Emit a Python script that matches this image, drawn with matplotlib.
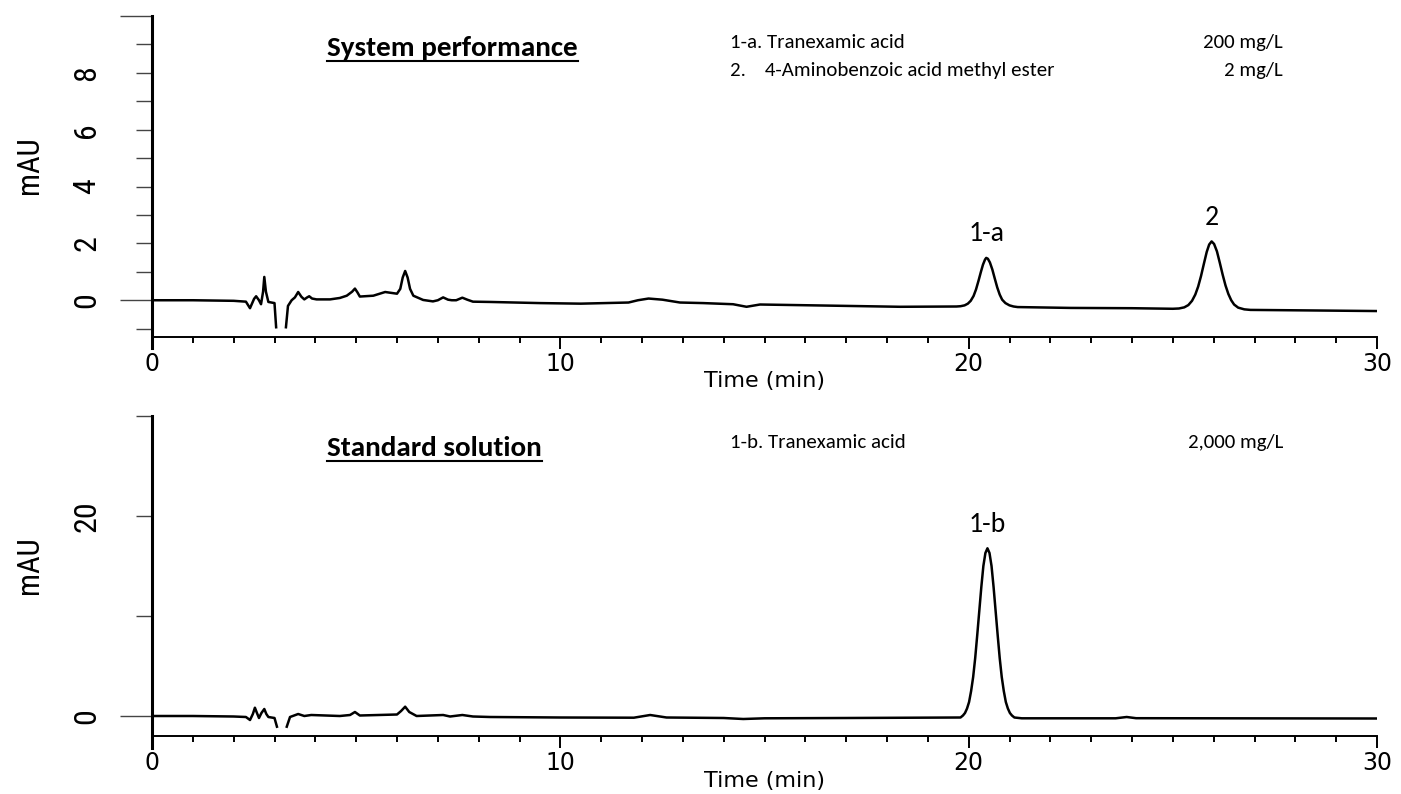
"""HPLC chromatograms: system performance and standard solution."""
import numpy as np
import matplotlib
matplotlib.use("Agg")
import matplotlib.pyplot as plt
from matplotlib import font_manager
from matplotlib.lines import Line2D


def pick_font(names, default="DejaVu Sans"):
    for n in names:
        try:
            font_manager.findfont(n, fallback_to_default=False)
            return n
        except Exception:
            pass
    return default


NARROW = pick_font(["Liberation Sans Narrow", "Roboto Condensed"])
TEXT = pick_font(["Carlito", "Lato", "Open Sans"])
WIDE = "DejaVu Sans"

# ---- data (time in min, signal in mAU) ----
top_time = [0.0, 1.0, 2.0, 2.3, 2.4, 2.5, 2.55, 2.62, 2.67, 2.72, 2.75, 2.79,
            2.85, 3.0, 3.04, np.nan, 3.28, 3.33, 3.42, 3.5, 3.58, 3.66, 3.73,
            3.8, 3.85, 3.92, 4.03, 4.36, 4.6, 4.77, 4.9, 4.97, 5.03, 5.09,
            5.42, 5.71, 6.0, 6.08, 6.14, 6.2, 6.26, 6.32, 6.4, 6.64, 6.88,
            7.0, 7.13, 7.25, 7.34, 7.45, 7.6, 7.72, 7.86, 8.28, 9.5, 10.5,
            11.67, 11.9, 12.16, 12.5, 12.93, 13.5, 14.23, 14.56, 14.89, 16.2,
            18.32, 19.7, 19.8, 19.9, 19.98, 20.05, 20.12, 20.18, 20.24, 20.3,
            20.35, 20.4, 20.43, 20.47, 20.52, 20.58, 20.64, 20.7, 20.76,
            20.82, 20.9, 21.0, 21.1, 21.2, 22.5, 24.0, 25.0, 25.15, 25.28,
            25.38, 25.47, 25.55, 25.62, 25.69, 25.76, 25.83, 25.89, 25.95,
            26.01, 26.08, 26.15, 26.22, 26.29, 26.36, 26.43, 26.5, 26.6,
            26.75, 26.9, 28.5, 30.0]
top_mau = [0.0, 0.0, -0.02, -0.05, -0.28, 0.05, 0.14, 0.0, -0.14, 0.3, 0.82,
           0.3, -0.06, -0.1, -0.95, np.nan, -0.95, -0.2, 0.0, 0.1, 0.29,
           0.12, 0.03, 0.1, 0.14, 0.06, 0.03, 0.03, 0.08, 0.16, 0.3, 0.41,
           0.28, 0.13, 0.16, 0.29, 0.23, 0.4, 0.8, 1.03, 0.8, 0.4, 0.16, 0.01,
           -0.04, 0.0, 0.1, 0.02, 0.0, 0.0, 0.09, 0.02, -0.05, -0.06, -0.1,
           -0.12, -0.08, 0.0, 0.06, 0.02, -0.08, -0.1, -0.14, -0.23, -0.15,
           -0.18, -0.23, -0.22, -0.21, -0.18, -0.12, -0.02, 0.15, 0.38, 0.68,
           1.0, 1.25, 1.43, 1.49, 1.46, 1.33, 1.08, 0.76, 0.45, 0.2, 0.02,
           -0.1, -0.18, -0.22, -0.24, -0.27, -0.28, -0.3, -0.29, -0.25,
           -0.17, -0.02, 0.2, 0.48, 0.85, 1.28, 1.7, 1.96, 2.07, 1.98, 1.72,
           1.32, 0.9, 0.52, 0.22, 0.0, -0.15, -0.26, -0.32, -0.34, -0.36,
           -0.38]

bottom_time = [0.0, 1.0, 2.0, 2.3, 2.4, 2.47, 2.52, 2.57, 2.62, 2.68, 2.75,
               2.8, 2.85, 3.0, 3.06, np.nan, 3.3, 3.38, 3.58, 3.73, 3.9, 4.6,
               4.85, 4.97, 5.09, 6.0, 6.1, 6.2, 6.3, 6.48, 7.13, 7.3, 7.6,
               7.86, 8.28, 10.0, 11.8, 12.2, 12.6, 14.0, 14.48, 15.0, 17.0,
               19.8, 19.86, 19.91, 19.96, 20.01, 20.06, 20.11, 20.16, 20.21,
               20.26, 20.31, 20.36, 20.41, 20.46, 20.51, 20.56, 20.61, 20.66,
               20.71, 20.76, 20.81, 20.86, 20.91, 20.96, 21.01, 21.06, 21.12,
               21.3, 23.6, 23.87, 24.1, 30.0]
bottom_mau = [0.0, 0.0, -0.05, -0.1, -0.4, 0.2, 0.83, 0.3, -0.2, 0.3, 0.7,
              0.2, -0.1, -0.2, -1.07, np.nan, -1.07, -0.1, 0.2, 0.0, 0.1, 0.0,
              0.1, 0.4, 0.05, 0.15, 0.5, 0.93, 0.4, 0.0, 0.1, -0.05, 0.1,
              -0.05, -0.1, -0.15, -0.17, 0.1, -0.15, -0.2, -0.3, -0.23, -0.2,
              -0.15, 0.05, 0.3, 0.75, 1.4, 2.5, 3.9, 5.8, 8.1, 10.5, 12.9,
              15.0, 16.3, 16.77, 16.3, 15.0, 12.9, 10.5, 8.1, 5.8, 3.9, 2.5,
              1.4, 0.75, 0.3, 0.05, -0.15, -0.23, -0.23, -0.1, -0.22, -0.25]

panels = [
    dict(t=top_time, y=top_mau, ylim=(-1.68, 10), xaxis_at=-1.3,
         yticks=list(range(-1, 11)), ylabels=[0, 2, 4, 6, 8], long_ticks=[0, 10],
         title="System performance",
         comp=[("1-a. Tranexamic acid", "200 mg/L"),
               ("2.    4-Aminobenzoic acid methyl ester", "2 mg/L")],
         peaks=[("1-a", 20.43, 1.49), ("2", 25.95, 2.07)]),
    dict(t=bottom_time, y=bottom_mau, ylim=(-3.2, 30), xaxis_at=-2.0,
         yticks=[0, 10, 20, 30], ylabels=[0, 20], long_ticks=[0],
         title="Standard solution",
         comp=[("1-b. Tranexamic acid", "2,000 mg/L")],
         peaks=[("1-b", 20.46, 16.77)]),
]

W, H = 1401, 794
fig = plt.figure(figsize=(W / 100, H / 100), dpi=100)

# axes boxes in pixels: (left, top, right, bottom)
boxes = [(152, 16, 1377, 348), (152, 416, 1377, 748)]
titles = []

for p, (l, t, r, b) in zip(panels, boxes):
    ax = fig.add_axes([l / W, 1 - b / H, (r - l) / W, (b - t) / H])
    ax.plot(p["t"], p["y"], color="black", lw=1.8, solid_joinstyle="round")
    ax.set_xlim(0, 30)
    ax.set_ylim(*p["ylim"])

    for s in ["top", "right"]:
        ax.spines[s].set_visible(False)
    ax.spines["bottom"].set_position(("data", p["xaxis_at"]))
    ax.spines["bottom"].set_linewidth(1.4)
    ax.spines["left"].set_linewidth(2.2)

    ax.set_xticks([0, 10, 20, 30])
    ax.set_xticks(range(0, 31), minor=True)
    ax.set_xticklabels(["0", "10", "20", "30"], fontsize=17, family=WIDE)
    ax.tick_params(axis="x", which="major", length=8.6, width=1.4, pad=2)
    ax.tick_params(axis="x", which="minor", length=4.3, width=1.4)

    ax.set_yticks(p["yticks"])
    ax.set_yticklabels([str(v) if v in p["ylabels"] else "" for v in p["yticks"]],
                       fontsize=23, family=NARROW, fontstretch="condensed",
                       rotation=90, va="center")
    ax.tick_params(axis="y", which="major", length=11.5, width=1.0, pad=25,
                   color="#444444")
    for tick, loc in zip(ax.yaxis.get_major_ticks(), p["yticks"]):
        if loc in p["long_ticks"]:
            tick.tick1line.set_markersize(23)

    for name, px, py in p["peaks"]:
        ax.annotate(name, (px, py), xytext=(0, 12), textcoords="offset points",
                    ha="center", va="baseline", fontsize=20, family=TEXT)

    fig.text(30 / W, 1 - (t + 149) / H, "mAU", rotation=90, ha="center",
             va="center", fontsize=22, family=NARROW, fontstretch="condensed")
    fig.text(765 / W, 1 - (b + 33) / H, "Time (min)", ha="center", va="center",
             fontsize=16, family=WIDE)

    titles.append(fig.text(327 / W, 1 - (t + 40) / H, p["title"], ha="left",
                           va="baseline", fontsize=21, fontweight="bold",
                           family=TEXT))
    for i, (comp, conc) in enumerate(p["comp"]):
        y = 1 - (t + 32 + 28 * i) / H
        fig.text(730 / W, y, comp, ha="left", va="baseline", fontsize=15,
                 family=TEXT)
        fig.text(1283 / W, y, conc, ha="right", va="baseline", fontsize=15,
                 family=TEXT)

# underline the panel titles
fig.canvas.draw()
renderer = fig.canvas.get_renderer()
for txt in titles:
    bb = txt.get_window_extent(renderer)
    y = (bb.y0 - 1) / H
    fig.add_artist(Line2D([bb.x0 / W, bb.x1 / W], [y, y], color="black", lw=1.5))

fig.savefig("out.png", dpi=100)
